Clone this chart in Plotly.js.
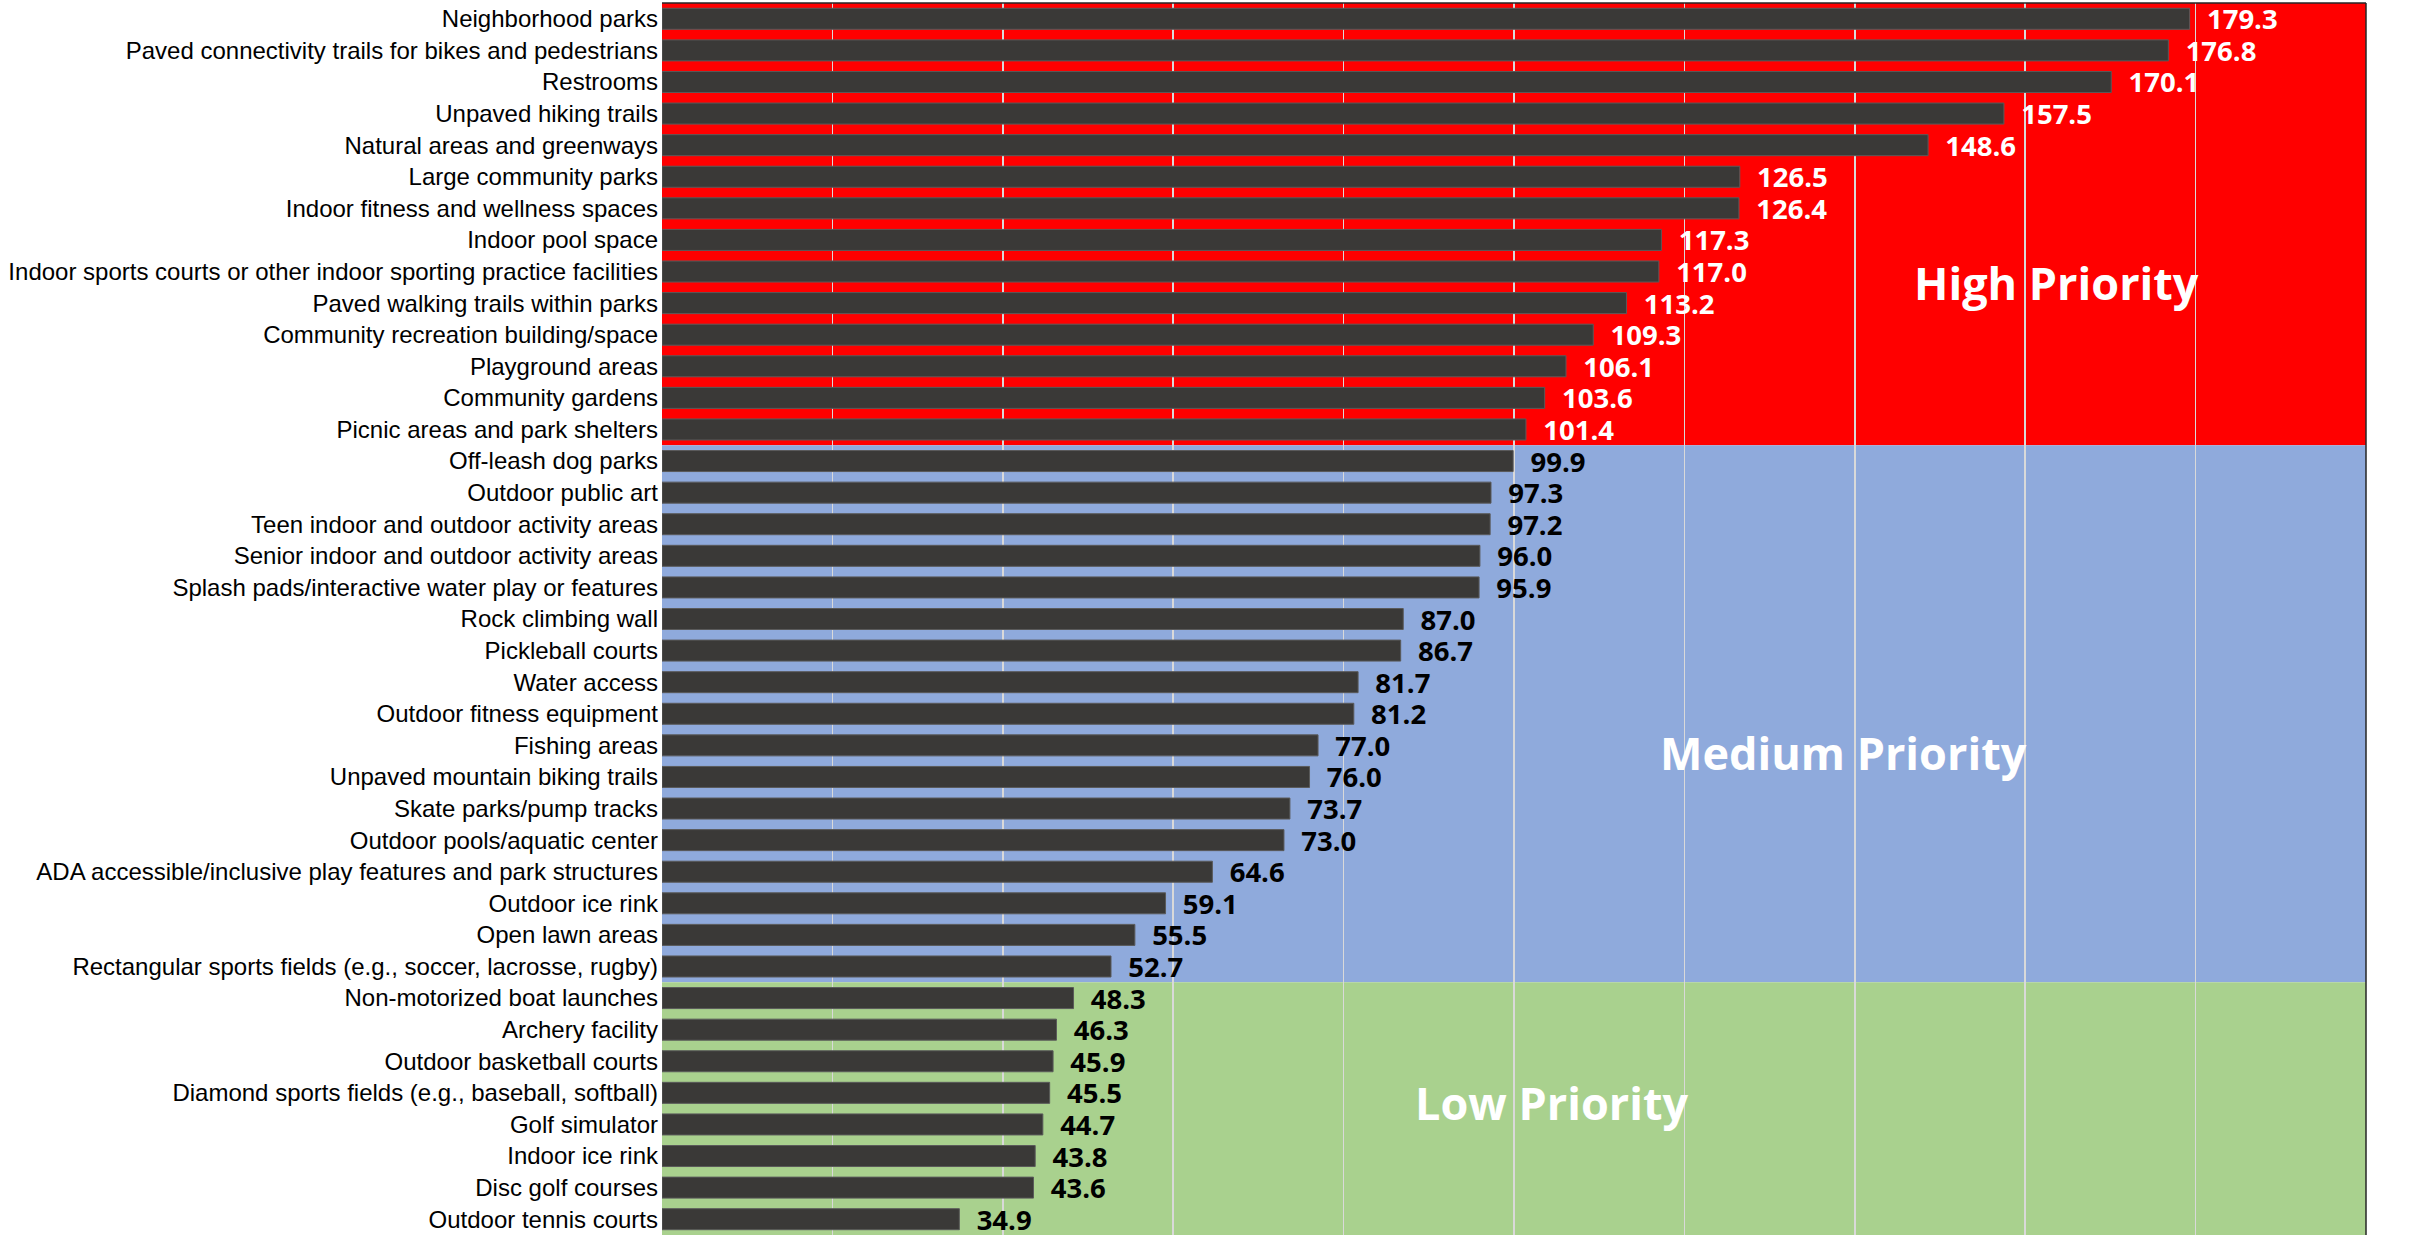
<!DOCTYPE html>
<html>
<head>
<meta charset="utf-8">
<script src="https://cdn.plot.ly/plotly-3.0.1.min.js"></script>
<style>html,body{margin:0;padding:0;background:#fff;}</style>
</head>
<body>
<div id="chart" style="width:2425px;height:1235px;"></div>
<script>
const categories = [
  "Neighborhood parks",
  "Paved connectivity trails for bikes and pedestrians",
  "Restrooms",
  "Unpaved hiking trails",
  "Natural areas and greenways",
  "Large community parks",
  "Indoor fitness and wellness spaces",
  "Indoor pool space",
  "Indoor sports courts or other indoor sporting practice facilities",
  "Paved walking trails within parks",
  "Community recreation building/space",
  "Playground areas",
  "Community gardens",
  "Picnic areas and park shelters",
  "Off-leash dog parks",
  "Outdoor public art",
  "Teen indoor and outdoor activity areas",
  "Senior indoor and outdoor activity areas",
  "Splash pads/interactive water play or features",
  "Rock climbing wall",
  "Pickleball courts",
  "Water access",
  "Outdoor fitness equipment",
  "Fishing areas",
  "Unpaved mountain biking trails",
  "Skate parks/pump tracks",
  "Outdoor pools/aquatic center",
  "ADA accessible/inclusive play features and park structures",
  "Outdoor ice rink",
  "Open lawn areas",
  "Rectangular sports fields (e.g., soccer, lacrosse, rugby)",
  "Non-motorized boat launches",
  "Archery facility",
  "Outdoor basketball courts",
  "Diamond sports fields (e.g., baseball, softball)",
  "Golf simulator",
  "Indoor ice rink",
  "Disc golf courses",
  "Outdoor tennis courts"
];
const scores = [179.3,176.8,170.1,157.5,148.6,126.5,126.4,117.3,117.0,113.2,109.3,106.1,103.6,101.4,
  99.9,97.3,97.2,96.0,95.9,87.0,86.7,81.7,81.2,77.0,76.0,73.7,73.0,64.6,59.1,55.5,52.7,
  48.3,46.3,45.9,45.5,44.7,43.8,43.6,34.9];
// priority tiers: number of items in each tier (top to bottom)
const tierNames = ["High Priority","Medium Priority","Low Priority"];
const tierCounts = [14, 17, 8];
const tierColors = ["#FF0000","#8FAADC","#A9D18E"];
const tierLabelColors = ["#FFFFFF","#000000","#000000"];
const tierLabelPos = [{x:163.7,y:8.36},{x:138.7,y:23.24},{x:104.4,y:34.3}];

const textColors = [];
const shapes = [];
const annotations = [];
let start = 0;
tierCounts.forEach((n,i)=>{
  for(let k=0;k<n;k++) textColors.push(tierLabelColors[i]);
  shapes.push({type:'rect',xref:'paper',yref:'y',x0:0,x1:1,y0:start-0.5,y1:start+n-0.5,
    fillcolor:tierColors[i],line:{width:0},layer:'below'});
  annotations.push({xref:'x',yref:'y',x:tierLabelPos[i].x,y:tierLabelPos[i].y,text:tierNames[i],
    showarrow:false,xanchor:'center',yanchor:'middle',
    font:{family:'Open Sans',size:45,color:'#FFFFFF',weight:'bold'}});
  start += n;
});
shapes.push({type:'line',xref:'paper',yref:'paper',x0:0,x1:1,y0:1,y1:1,line:{color:'#262626',width:1.5},layer:'above'});
shapes.push({type:'line',xref:'paper',yref:'paper',x0:1,x1:1,y0:0,y1:1,line:{color:'#262626',width:1.5},layer:'above'});

const trace = {
  type:'bar', orientation:'h',
  y: categories, x: scores,
  marker:{color:'#3A3937', line:{color:'#5A5A5A', width:1}},
  texttemplate:'\u00a0\u00a0%{x:.1f}',
  textposition:'outside',
  constraintext:'none',
  cliponaxis:false,
  textfont:{family:'Open Sans', size:27.5, color:textColors, weight:'bold'},
  hoverinfo:'skip'
};

const layout = {
  width:2425, height:1235,
  margin:{l:662, r:59, t:3, b:0, pad:0},
  paper_bgcolor:'#FFFFFF', plot_bgcolor:'rgba(0,0,0,0)',
  showlegend:false,
  bargap:0.335,
  xaxis:{range:[0,200], dtick:20, tick0:0, showgrid:true, gridcolor:'#D9D9D9', gridwidth:1.5,
    showticklabels:false, zeroline:false, showline:false, ticks:''},
  yaxis:{type:'category', autorange:false, range:[38.5,-0.5], showgrid:false, zeroline:false,
    ticks:'', ticklabelstandoff:3, tickmode:'array', tickvals:categories, ticktext:categories,
    tickfont:{family:'Liberation Sans', size:24, color:'#000000'}},
  shapes: shapes,
  annotations: annotations
};
Plotly.newPlot('chart',[trace],layout,{staticPlot:true});
</script>
</body>
</html>
